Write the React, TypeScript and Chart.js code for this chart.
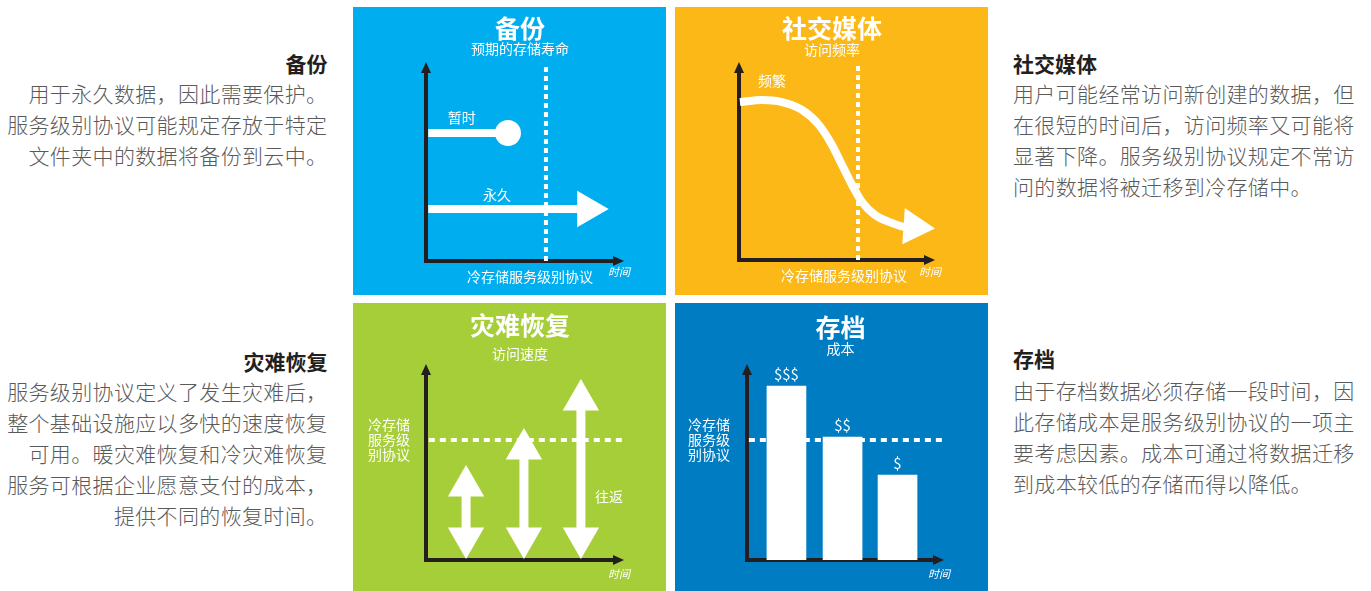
import React, { useEffect, useRef } from 'react';
import { Chart, registerables } from 'chart.js';

Chart.register(...registerables);

const FONT = '"Noto Sans CJK SC", "Noto Sans", sans-serif';
const AXIS = '#231f20';
const WHITE = '#ffffff';

// ---------- 备份 ----------
const backupTitle = '备份';
const backupSubtitle = '预期的存储寿命';
const backupTempX = [0.12, 4.36];
const backupTempY = [6.77, 6.77];
const backupPermX = [0.12, 8.6];
const backupPermY = [2.75, 2.75];
const backupSlaX = [6.38, 6.38];
const backupSlaY = [0, 10.42];
const backupLabelText = ['暂时', '永久', '冷存储服务级别协议'];
const backupLabelX = [1.9, 3.78, 5.53];
const backupLabelY = [7.57, 3.49, -0.85];

// ---------- 社交媒体 ----------
const socialTitle = '社交媒体';
const socialSubtitle = '访问频率';
const socialCurveX = [0.05, 1.24, 2.31, 3.39, 4.3, 5.0, 5.54, 6.08, 6.61, 7.31, 8.23, 8.92, 9.41];
const socialCurveY = [8.4, 8.51, 8.4, 7.98, 7.18, 6.12, 5.05, 3.99, 3.09, 2.39, 1.97, 1.76, 1.76];
const socialSlaX = [6.4, 6.4];
const socialSlaY = [0, 10.43];
const socialLabelText = ['频繁', '冷存储服务级别协议'];
const socialLabelX = [1.77, 5.65];
const socialLabelY = [9.52, -0.85];

// ---------- 灾难恢复 ----------
const drTitle = '灾难恢复';
const drSubtitle = '访问速度';
const drArrowX = [2.13, 5.21, 8.24];
const drArrowTop = [3.98, 5.97, 8.6];
const drArrowBottom = [1.18, 1.18, 1.18];
const drSlaX = [0.15, 10.6];
const drSlaY = [6.45, 6.45];
const drLabelText = ['冷存储\n服务级\n别协议', '往返'];
const drLabelX = [-1.97, 9.73];
const drLabelY = [6.45, 3.39];

// ---------- 存档 ----------
const archiveTitle = '存档';
const archiveSubtitle = '成本';
const archiveBarX = [2.11, 5.11, 8.05];
const archiveCost = [9.35, 6.61, 4.57];
const archiveCostLabels = ['$$$', '$$', '$'];
const archiveSlaX = [0.1, 10.6];
const archiveSlaY = [6.45, 6.45];
const archiveLabelText = ['冷存储\n服务级\n别协议'];
const archiveLabelX = [-2.03];
const archiveLabelY = [6.45];

const pts = (xs: number[], ys: number[]) => xs.map((x, i) => ({ x, y: ys[i] }));

type Label = { text: string; x: number; y: number };
const labels = (t: string[], xs: number[], ys: number[]): Label[] =>
  t.map((text, i) => ({ text, x: xs[i], y: ys[i] }));

function decorPlugin(lbls: Label[], timeDy: number, barLabels?: string[]) {
  return {
    id: 'decor',
    afterDatasetsDraw(chart: any) {
      const { ctx, chartArea: a, scales } = chart;
      const xs = scales.x;
      const ys = scales.y;
      ctx.save();
      ctx.fillStyle = AXIS;
      ctx.fillRect(a.left - 2, a.bottom - 2, 4, 4);
      ctx.beginPath();
      ctx.moveTo(a.left, a.top - 10);
      ctx.lineTo(a.left - 5, a.top + 1);
      ctx.lineTo(a.left + 5, a.top + 1);
      ctx.closePath();
      ctx.fill();
      ctx.beginPath();
      ctx.moveTo(a.right + 10, a.bottom);
      ctx.lineTo(a.right - 1, a.bottom - 5);
      ctx.lineTo(a.right - 1, a.bottom + 5);
      ctx.closePath();
      ctx.fill();

      ctx.fillStyle = WHITE;
      ctx.textAlign = 'center';
      ctx.textBaseline = 'middle';
      ctx.font = `14px ${FONT}`;
      for (const l of lbls) {
        const lines = l.text.split('\n');
        const px = xs.getPixelForValue(l.x);
        const py = ys.getPixelForValue(l.y);
        lines.forEach((t, i) => ctx.fillText(t, px, py + (i - (lines.length - 1) / 2) * 15));
      }
      if (barLabels) {
        ctx.font = `15px ${FONT}`;
        const meta = chart.getDatasetMeta(0);
        meta.data.forEach((el: any, i: number) => ctx.fillText(barLabels[i], el.x, el.y - 12));
      }
      ctx.font = `italic 11px ${FONT}`;
      ctx.fillText('时间', a.right + 5, a.bottom + timeDy);
      ctx.restore();
    },
  };
}

function baseOptions(o: {
  title: string;
  subtitle: string;
  titleTop: number;
  subTop: number;
  subBottom: number;
  padding: { left: number; right: number; top: number; bottom: number };
}) {
  const axis = {
    type: 'linear',
    min: 0,
    max: 10,
    offset: false,
    grid: { display: false, drawTicks: false, tickLength: 0 },
    ticks: { display: false },
    border: { display: true, color: AXIS, width: 4 },
  };
  return {
    responsive: false,
    maintainAspectRatio: false,
    animation: false,
    devicePixelRatio: 1,
    events: [],
    layout: { padding: o.padding },
    plugins: {
      legend: { display: false },
      tooltip: { enabled: false },
      title: {
        display: true,
        text: o.title,
        color: WHITE,
        font: { family: FONT, size: 25, weight: 'bold', lineHeight: 1 },
        padding: { top: o.titleTop, bottom: 0 },
      },
      subtitle: {
        display: true,
        text: o.subtitle,
        color: WHITE,
        font: { family: FONT, size: 14, lineHeight: 1 },
        padding: { top: o.subTop, bottom: o.subBottom },
      },
    },
    scales: { x: { ...axis }, y: { ...axis } },
  };
}

const dashed = (data: any[], dash: number[]) => ({
  data,
  showLine: true,
  borderColor: WHITE,
  borderWidth: 4,
  borderDash: dash,
  pointRadius: 0,
  pointBorderWidth: 0,
  clip: false,
});

function backupConfig(): any {
  return {
    type: 'scatter',
    data: {
      datasets: [
        dashed(pts(backupSlaX, backupSlaY), [5, 4]),
        {
          data: pts(backupTempX, backupTempY),
          showLine: true,
          borderColor: WHITE,
          borderWidth: 8,
          backgroundColor: WHITE,
          pointBackgroundColor: WHITE,
          pointBorderColor: WHITE,
          pointBorderWidth: 0,
          pointStyle: 'circle',
          pointRadius: [0, 13],
          clip: false,
        },
        {
          data: pts(backupPermX, backupPermY),
          showLine: true,
          borderColor: WHITE,
          borderWidth: 8,
          pointBackgroundColor: WHITE,
          pointBorderColor: WHITE,
          pointBorderWidth: 0,
          pointStyle: 'triangle',
          pointRotation: 90,
          pointRadius: [0, 21],
          clip: false,
        },
      ],
    },
    options: baseOptions({
      title: backupTitle,
      subtitle: backupSubtitle,
      titleTop: 8.5,
      subTop: 1.5,
      subBottom: 16,
      padding: { left: 73, right: 52, top: 0, bottom: 34 },
    }),
    plugins: [decorPlugin(labels(backupLabelText, backupLabelX, backupLabelY), 11)],
  };
}

function socialConfig(): any {
  const n = socialCurveX.length;
  return {
    type: 'scatter',
    data: {
      datasets: [
        dashed(pts(socialSlaX, socialSlaY), [5, 4]),
        {
          data: pts(socialCurveX, socialCurveY),
          showLine: true,
          borderColor: WHITE,
          borderWidth: 8,
          cubicInterpolationMode: 'monotone',
          pointBackgroundColor: WHITE,
          pointBorderColor: WHITE,
          pointBorderWidth: 0,
          pointStyle: 'triangle',
          pointRotation: 94,
          pointRadius: socialCurveX.map((_, i) => (i === n - 1 ? 21 : 0)),
          clip: false,
        },
      ],
    },
    options: baseOptions({
      title: socialTitle,
      subtitle: socialSubtitle,
      titleTop: 8.5,
      subTop: 2.5,
      subBottom: 15,
      padding: { left: 64, right: 63, top: 0, bottom: 35 },
    }),
    plugins: [decorPlugin(labels(socialLabelText, socialLabelX, socialLabelY), 12)],
  };
}

function drConfig(): any {
  return {
    type: 'scatter',
    data: {
      datasets: [
        dashed(pts(drSlaX, drSlaY), [6, 5]),
        ...drArrowX.map((x, i) => ({
          data: [
            { x, y: drArrowBottom[i] },
            { x, y: drArrowTop[i] },
          ],
          showLine: true,
          borderColor: WHITE,
          borderWidth: 9,
          pointBackgroundColor: WHITE,
          pointBorderColor: WHITE,
          pointBorderWidth: 0,
          pointStyle: 'triangle',
          pointRotation: [180, 0],
          pointRadius: 21,
          clip: false,
        })),
      ],
    },
    options: baseOptions({
      title: drTitle,
      subtitle: drSubtitle,
      titleTop: 9.5,
      subTop: 9.5,
      subBottom: 13,
      padding: { left: 73, right: 52, top: 0, bottom: 31 },
    }),
    plugins: [decorPlugin(labels(drLabelText, drLabelX, drLabelY), 14)],
  };
}

function archiveConfig(): any {
  return {
    type: 'bar',
    data: {
      datasets: [
        {
          type: 'bar',
          data: pts(archiveBarX, archiveCost),
          backgroundColor: WHITE,
          borderWidth: 0,
          barThickness: 39,
          order: 1,
        },
        { type: 'line', order: 2, ...dashed(pts(archiveSlaX, archiveSlaY), [6, 5]) },
      ],
    },
    options: baseOptions({
      title: archiveTitle,
      subtitle: archiveSubtitle,
      titleTop: 11.5,
      subTop: 2.5,
      subBottom: 18,
      padding: { left: 72, right: 54, top: 0, bottom: 31 },
    }),
    plugins: [decorPlugin(labels(archiveLabelText, archiveLabelX, archiveLabelY), 14, archiveCostLabels)],
  };
}

function Panel(props: { left: number; top: number; bg: string; make: () => any }) {
  const ref = useRef<HTMLCanvasElement>(null);
  useEffect(() => {
    const chart = new Chart(ref.current as HTMLCanvasElement, props.make());
    return () => chart.destroy();
  }, []);
  return (
    <div
      style={{
        position: 'absolute',
        left: props.left,
        top: props.top,
        width: 313,
        height: 288,
        background: props.bg,
      }}
    >
      <canvas ref={ref} width={313} height={288} style={{ display: 'block', width: 313, height: 288 }} />
    </div>
  );
}

const leftTopTitle = '备份';
const leftTopLines = ['用于永久数据，因此需要保护。', '服务级别协议可能规定存放于特定', '文件夹中的数据将备份到云中。'];
const rightTopTitle = '社交媒体';
const rightTopLines = [
  '用户可能经常访问新创建的数据，但',
  '在很短的时间后，访问频率又可能将',
  '显著下降。服务级别协议规定不常访',
  '问的数据将被迁移到冷存储中。',
];
const leftBottomTitle = '灾难恢复';
const leftBottomLines = [
  '服务级别协议定义了发生灾难后，',
  '整个基础设施应以多快的速度恢复',
  '可用。暖灾难恢复和冷灾难恢复',
  '服务可根据企业愿意支付的成本，',
  '提供不同的恢复时间。',
];
const rightBottomTitle = '存档';
const rightBottomLines = [
  '由于存档数据必须存储一段时间，因',
  '此存储成本是服务级别协议的一项主',
  '要考虑因素。成本可通过将数据迁移',
  '到成本较低的存储而得以降低。',
];

function TextBlock(props: {
  side: 'left' | 'right';
  titleTop: number;
  bodyTop: number;
  title: string;
  lines: string[];
}) {
  const pos: any =
    props.side === 'left'
      ? { left: 0, width: 327.4, textAlign: 'right' }
      : { left: 1013, width: 358, textAlign: 'left' };
  const common: any = {
    position: 'absolute',
    fontFamily: FONT,
    fontSize: 21,
    lineHeight: '31px',
    letterSpacing: '0.35px',
    whiteSpace: 'pre',
    ...pos,
  };
  return (
    <>
      <div style={{ ...common, top: props.titleTop, fontWeight: 700, color: '#231f20', letterSpacing: 0 }}>
        {props.title}
      </div>
      <div style={{ ...common, top: props.bodyTop, fontWeight: 300, color: '#5a5a5a' }}>
        {props.lines.map((l, i) => (
          <div key={i}>{l}</div>
        ))}
      </div>
    </>
  );
}

export default function App() {
  return (
    <div
      style={{
        position: 'absolute',
        left: 0,
        top: 0,
        width: 1371,
        height: 591,
        overflow: 'hidden',
        background: '#ffffff',
      }}
    >
      <TextBlock side="left" titleTop={48} bodyTop={78} title={leftTopTitle} lines={leftTopLines} />
      <TextBlock side="right" titleTop={48} bodyTop={78} title={rightTopTitle} lines={rightTopLines} />
      <TextBlock side="left" titleTop={346} bodyTop={376} title={leftBottomTitle} lines={leftBottomLines} />
      <TextBlock side="right" titleTop={343} bodyTop={375} title={rightBottomTitle} lines={rightBottomLines} />
      <Panel left={353} top={7} bg="#00aeef" make={backupConfig} />
      <Panel left={675} top={7} bg="#fbb817" make={socialConfig} />
      <Panel left={353} top={303} bg="#a6ce39" make={drConfig} />
      <Panel left={675} top={303} bg="#007cc3" make={archiveConfig} />
    </div>
  );
}
